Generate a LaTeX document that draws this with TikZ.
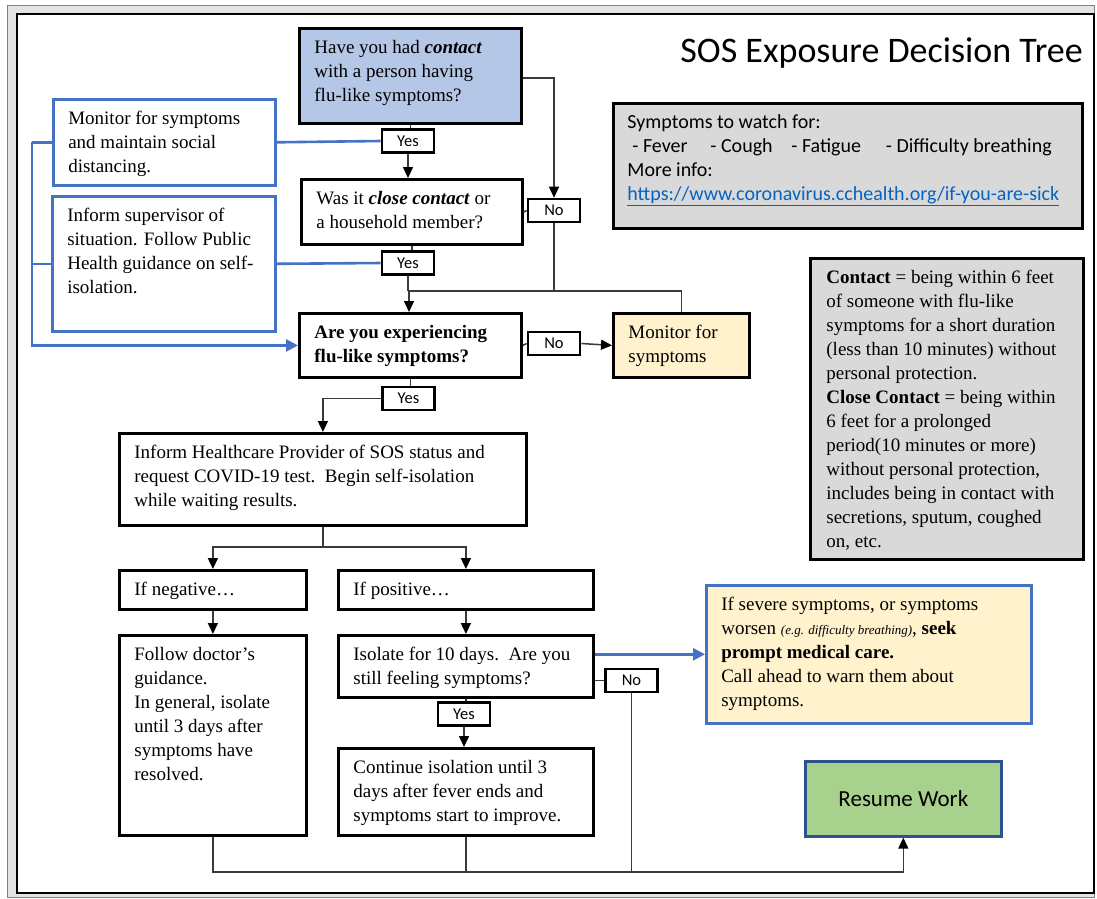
\documentclass[tikz,border=0pt]{standalone}
\usepackage{fontspec}
\setmainfont{Liberation Serif}
\newfontfamily\calib{Carlito}
\usetikzlibrary{arrows.meta}
\definecolor{qblue}{HTML}{B4C7E7}
\definecolor{lblue}{HTML}{4472C4}
\definecolor{cream}{HTML}{FFF2CC}
\definecolor{lgray}{HTML}{D9D9D9}
\definecolor{greenf}{HTML}{A9D18E}
\definecolor{navy}{HTML}{2F528F}
\definecolor{linkc}{HTML}{0563C1}
\definecolor{wirec}{HTML}{3A3A3A}
\definecolor{framegray}{HTML}{E4E4E4}
\newcommand{\bxt}[3]{\begin{minipage}[c][\dimexpr#2pt-16pt\relax][t]{\dimexpr#1pt-30pt\relax}\raggedright\strut#3\end{minipage}}
\tikzset{
  flow/.style={draw=black, line width=2.8pt, inner xsep=15pt, inner ysep=8pt, anchor=north west, font=\fontsize{19}{24}\selectfont},
  bluebox/.style={flow, draw=lblue, line width=2.6pt, fill=white},
  lbl/.style={draw=black, line width=2.6pt, fill=white, inner sep=0pt, minimum width=52pt, minimum height=23pt, font=\calib\fontsize{16.5}{18}\selectfont},
  wire/.style={draw=wirec, line width=1.5pt},
  arr/.style={wire, -{Triangle[length=11pt,width=10pt,color=black]}},
  bluew/.style={draw=lblue, line width=2.6pt},
  bluearr/.style={bluew, -{Triangle[length=12pt,width=12pt]}}
}
\begin{document}
\begin{tikzpicture}[x=1pt,y=-1pt]
\useasboundingbox (0,0) rectangle (1097,898);
% frame
\fill[framegray, draw=gray, line width=1pt] (7,5) rectangle (1094,897);
\draw[fill=white, line width=2.4pt] (17,14) rectangle (1094,893);

% title
\node[anchor=base east, font=\calib\fontsize{36}{40}\selectfont, inner sep=0pt] (title) at (1083,62) {SOS Exposure Decision Tree};

% boxes
\node[flow, fill=qblue] (q1) at (298,27) {\bxt{222}{95}{Have you had \textbf{\textit{contact}}\\with a person having\\flu-like symptoms?}};
\node[bluebox] (monitor) at (52,98) {\bxt{222}{86}{Monitor for symptoms\\and maintain social\\distancing.}};
\node[flow, fill=white] (q2) at (300,178) {\bxt{221}{65}{Was it \textbf{\textit{close contact}} or\\a household member?}};
\node[bluebox] (supervisor) at (51,195) {\bxt{223}{135}{Inform supervisor of\\situation. Follow Public\\Health guidance on self-\\isolation.}};
\node[flow, fill=white] (q3) at (298,312) {\bxt{222}{64}{\textbf{Are you experiencing}\\\textbf{flu-like symptoms?}}};
\node[flow, fill=cream] (monitor2) at (612,312) {\bxt{136}{64}{Monitor for\\symptoms}};
\node[flow, fill=white] (hc) at (118,432) {\bxt{407}{92}{Inform Healthcare Provider of SOS status and\\request COVID-19 test.\ \ Begin self-isolation\\while waiting results.}};
\node[flow, fill=white] (neg) at (118,569) {\bxt{187}{39}{If negative\ldots}};
\node[flow, fill=white] (pos) at (337,569) {\bxt{255}{39}{If positive\ldots}};
\node[flow, fill=white] (follow) at (118,634) {\bxt{187}{200}{Follow doctor's\\guidance.\\In general, isolate\\until 3 days after\\symptoms have\\resolved.}};
\node[flow, fill=white] (isolate) at (337,634) {\bxt{255}{62}{Isolate for 10 days.\ \ Are you\\still feeling symptoms?}};
\node[flow, fill=white] (continue) at (337,747) {\bxt{255}{87}{Continue isolation until 3\\days after fever ends and\\symptoms start to improve.}};
\node[flow, draw=lblue, line width=2.6pt, fill=cream] (severe) at (705,584) {\bxt{325}{138}{If severe symptoms, or symptoms\\worsen {\fontsize{13}{14}\selectfont\itshape (e.g. difficulty breathing)}, \textbf{seek}\\\textbf{prompt medical care.}\\Call ahead to warn them about\\symptoms.}};
\node[draw=navy, line width=2.6pt, fill=greenf, minimum width=196pt, minimum height=75pt, anchor=north west, font=\calib\fontsize{23}{26}\selectfont] (resume) at (804,760) {Resume Work};
\node[flow, fill=lgray, inner xsep=14pt, font=\calib\fontsize{20}{24}\selectfont] (sym) at (612,102) {\begin{minipage}[c][109pt][t]{441pt}\raggedright\strut Symptoms to watch for:\\\hspace*{5pt}\makebox[78pt][l]{- Fever}\makebox[81pt][l]{- Cough}\makebox[94.5pt][l]{- Fatigue}- Difficulty breathing\\More info:\\{\color{linkc}\underline{https://www.coronavirus.cchealth.org/if-you-are-sick}}\end{minipage}};
\node[flow, fill=lgray, inner xsep=16pt] (contact) at (809,257) {\begin{minipage}[c][285pt][t]{241pt}\raggedright\strut\textbf{Contact} = being within 6 feet\\of someone with flu-like\\symptoms for a short duration\\(less than 10 minutes) without\\personal protection.\\\textbf{Close Contact} = being within\\6 feet for a prolonged\\period(10 minutes or more)\\without personal protection,\\includes being in contact with\\secretions, sputum, coughed\\on, etc.\end{minipage}};

% connectors
\coordinate (c1) at (554,78);
\coordinate (mrg) at (409,291);
\coordinate (bl) at (32,0);
\coordinate (spl) at (0,547);
\coordinate (bot) at (0,872);

\node[lbl] (yes1) at (408,141) {Yes};
\node[lbl] (yes2) at (408,263) {Yes};
\node[lbl] (no1) at (554,210.5) {No};
\node[lbl] (no2) at (554,343.5) {No};
\node[lbl] (yes3) at (408.5,398.5) {Yes};
\node[lbl] (yes4) at (464,714) {Yes};
\node[lbl] (no3) at (631.5,680.5) {No};

\draw[wire] (q1.south) -- (q1.south |- yes1.north);
\draw[line width=2.8pt] (522,60) -- (522,78);
\draw[arr] (c1 -| q1.east) -- (c1) -- (no1.north);
\draw[arr] (yes1.south) -- (yes1.south |- q2.north);
\draw[wire] (q2.east) -- (no1.west);
\draw[wire] (no1.south) |- (mrg);
\draw[wire] (q2.south) -- (q2.south |- yes2.north);
\draw[wire] (yes2.south) -- (yes2.south |- mrg);
\draw[arr] (mrg) -- (mrg |- q3.north);
\draw[wire] (monitor2.north) |- (mrg);

\draw[bluew] (monitor.east) -- (yes1.west);
\draw[bluew] (supervisor.east) -- (yes2.west);
\draw[bluew] (monitor.west) -- (monitor.west -| bl);
\draw[bluew] (supervisor.west) -- (supervisor.west -| bl);
\draw[bluearr] (monitor.west -| bl) |- (q3.west);

\draw[wire] (q3.east) -- (no2.west);
\draw[arr] (no2.east) -- (monitor2.west);
\draw[wire] (q3.south) -- (q3.south |- yes3.north);
\draw[arr] (yes3.west) -| (hc.north);
\draw[wire] (hc.south) -- (hc.south |- spl);
\draw[arr] (hc.south |- spl) -| (neg.north);
\draw[arr] (hc.south |- spl) -| (pos.north);
\draw[arr] (neg.south) -- (follow.north);
\draw[arr] (pos.south) -- (isolate.north);
\draw[wire] (isolate.south) -- (isolate.south |- yes4.north);
\draw[arr] (yes4.south) -- (yes4.south |- continue.north);
\draw[bluearr] (severe.west -| isolate.east) -- (severe.west);
\draw[wire] (no3.west -| isolate.east) -- (no3.west);
\draw[arr] (follow.south) |- (resume.south |- bot) -- (resume.south);
\draw[wire] (continue.south) -- (continue.south |- bot);
\draw[wire] (no3.south) -- (no3.south |- bot);
\end{tikzpicture}
\end{document}
